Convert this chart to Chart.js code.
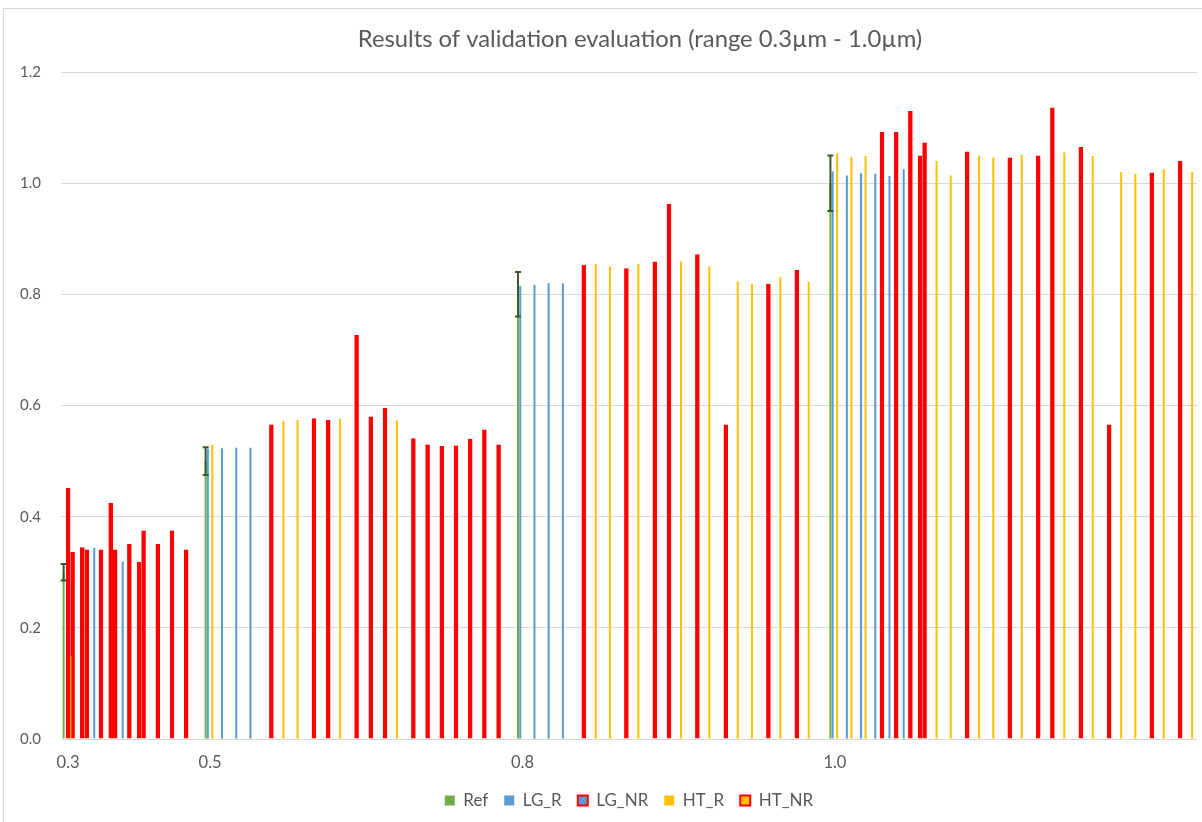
<!DOCTYPE html>
<html>
<head>
<meta charset="utf-8">
<title>Results of validation evaluation</title>
<script src="https://cdn.jsdelivr.net/npm/chart.js@4.4.1/dist/chart.umd.min.js"></script>
<style>
    html, body { margin: 0; padding: 0; background: #ffffff; overflow: hidden; }
    #frame { position: absolute; left: 3px; top: 8px; width: 1220px; height: 840px; border: 1px solid #d9d9d9; }
    #wrap { position: absolute; left: 0; top: 0; width: 1202px; height: 822px; }
</style>
</head>
<body>
<div id="frame"></div>
<div id="wrap"><canvas id="validationChart" width="1202" height="822"></canvas></div>
<script>
// 80 size classes on the category axis, only four of them carry a label
const categoryCount = 80;
const tickLabels = { 0: "0.3", 10: "0.5", 32: "0.8", 54: "1.0" };

// [category index, value] pairs for each series
const refValues = [[0, 0.30], [10, 0.50], [32, 0.80], [54, 1.00]];
const refErrorPct = 0.05;

const lgRValues = [
    [2, 0.344], [4, 0.319], [10, 0.522], [11, 0.523], [12, 0.524], [13, 0.524],
    [32, 0.815], [33, 0.817], [34, 0.820], [35, 0.820],
    [54, 1.021], [55, 1.014], [56, 1.018], [57, 1.017], [58, 1.013], [59, 1.025]
];

const lgNRValues = [[0, 0.452], [1, 0.345], [3, 0.425], [5, 0.319], [60, 1.050]];

const htRValues = [
    [0, 0.150], [10, 0.529], [15, 0.572], [16, 0.574], [19, 0.576], [23, 0.573],
    [37, 0.855], [38, 0.850], [40, 0.855], [43, 0.859], [45, 0.850], [47, 0.823],
    [48, 0.819], [50, 0.831], [52, 0.822],
    [54, 1.054], [55, 1.047], [56, 1.049], [61, 1.040], [62, 1.014], [64, 1.050],
    [65, 1.046], [67, 1.051], [70, 1.055], [72, 1.049], [74, 1.020], [75, 1.017],
    [77, 1.025], [79, 1.020]
];

const htNRValues = [
    [0, 0.337], [1, 0.341], [2, 0.341], [3, 0.341], [4, 0.351], [5, 0.375],
    [6, 0.351], [7, 0.375], [8, 0.341],
    [14, 0.566], [17, 0.577], [18, 0.574], [20, 0.727], [21, 0.580], [22, 0.596],
    [24, 0.541], [25, 0.530], [26, 0.527], [27, 0.528], [28, 0.540], [29, 0.557], [30, 0.530],
    [36, 0.853], [39, 0.847], [41, 0.859], [42, 0.963], [44, 0.872], [46, 0.566],
    [49, 0.819], [51, 0.844],
    [57, 1.092], [58, 1.092], [59, 1.130], [60, 1.073], [63, 1.057], [66, 1.046],
    [68, 1.050], [69, 1.136], [71, 1.065], [73, 0.566], [76, 1.019], [78, 1.040]
];

const yTicks = [0, 0.2, 0.4, 0.6, 0.8, 1.0, 1.2];

const chartTitle = "Results of validation evaluation (range 0.3µm - 1.0µm)";

const GREEN = "#70ad47";
const BLUE = "#5b9bd5";
const YELLOW = "#ffc000";
const RED = "#ff0000";
const TEXT = "#595959";
const GRID = "#d9d9d9";
const FONT = "Lato, 'Open Sans', sans-serif";

const labels = Array.from({ length: categoryCount }, (_, i) => tickLabels[i] || "");

function spread(pairs) {
    const out = new Array(categoryCount).fill(null);
    pairs.forEach(([i, v]) => { out[i] = v; });
    return out;
}

function thinSeries(label, pairs, color) {
    return {
        label,
        data: spread(pairs),
        backgroundColor: color,
        borderWidth: 0,
        barPercentage: 0.9
    };
}

// NR series: fill colour with a heavy red outline, wide enough to read as solid red
function outlinedSeries(label, pairs, fill) {
    return {
        label,
        data: spread(pairs),
        backgroundColor: fill,
        borderColor: RED,
        borderWidth: 3,
        borderSkipped: false,
        barPercentage: 2.05
    };
}

// +/- 5 % whiskers on the reference bars
const errorBars = {
    id: "errorBars",
    afterDatasetsDraw(chart) {
        const ctx = chart.ctx;
        const meta = chart.getDatasetMeta(0);
        const y = chart.scales.y;
        ctx.save();
        ctx.strokeStyle = "#3b5828";
        ctx.lineWidth = 2;
        refValues.forEach(([i, v]) => {
            const bar = meta.data[i];
            if (!bar) return;
            const x = bar.x;
            const top = y.getPixelForValue(v * (1 + refErrorPct));
            const bottom = y.getPixelForValue(v * (1 - refErrorPct));
            ctx.beginPath();
            ctx.moveTo(x, top);
            ctx.lineTo(x, bottom);
            ctx.moveTo(x - 3, top);
            ctx.lineTo(x + 3, top);
            ctx.moveTo(x - 3, bottom);
            ctx.lineTo(x + 3, bottom);
            ctx.stroke();
        });
        ctx.restore();
    }
};

// title sits a little right of the canvas centre
const titleText = {
    id: "titleText",
    afterDraw(chart) {
        const ctx = chart.ctx;
        ctx.save();
        ctx.fillStyle = TEXT;
        ctx.font = "23.8px " + FONT;
        ctx.textAlign = "center";
        ctx.textBaseline = "middle";
        ctx.fillText(chartTitle, 640, 39);
        ctx.restore();
    }
};

new Chart(document.getElementById("validationChart"), {
    type: "bar",
    data: {
        labels,
        datasets: [
            thinSeries("Ref", refValues, GREEN),
            thinSeries("LG_R", lgRValues, BLUE),
            outlinedSeries("LG_NR", lgNRValues, BLUE),
            thinSeries("HT_R", htRValues, YELLOW),
            outlinedSeries("HT_NR", htNRValues, YELLOW)
        ]
    },
    options: {
        responsive: false,
        animation: false,
        events: [],
        categoryPercentage: 0.79,
        layout: { padding: { top: 72, left: 0, right: 5, bottom: 3 } },
        plugins: {
            title: { display: false },
            legend: {
                position: "bottom",
                fullSize: false,
                labels: {
                    color: TEXT,
                    font: { family: FONT, size: 17 },
                    boxWidth: 10,
                    boxHeight: 10,
                    padding: 16,
                    generateLabels(chart) {
                        return chart.data.datasets.map((ds, i) => ({
                            text: ds.label,
                            fillStyle: ds.backgroundColor,
                            strokeStyle: ds.borderWidth ? RED : ds.backgroundColor,
                            lineWidth: ds.borderWidth ? 2 : 0,
                            fontColor: TEXT,
                            datasetIndex: i
                        }));
                    }
                }
            },
            tooltip: { enabled: false }
        },
        scales: {
            x: {
                grid: { display: false },
                border: { display: false },
                afterFit(scale) { scale.height = 37; },
                ticks: {
                    autoSkip: false,
                    maxRotation: 0,
                    color: TEXT,
                    font: { family: FONT, size: 16.5 },
                    padding: 6
                }
            },
            y: {
                min: 0,
                max: 1.2,
                afterFit(scale) { scale.width = 61; },
                afterBuildTicks(scale) { scale.ticks = yTicks.map((v) => ({ value: v })); },
                grid: { color: GRID, lineWidth: 1, drawTicks: false },
                border: { display: false },
                ticks: {
                    color: TEXT,
                    font: { family: FONT, size: 15 },
                    padding: 20,
                    callback: (v) => Number(v).toFixed(1)
                }
            }
        }
    },
    plugins: [errorBars, titleText]
});
</script>
</body>
</html>
